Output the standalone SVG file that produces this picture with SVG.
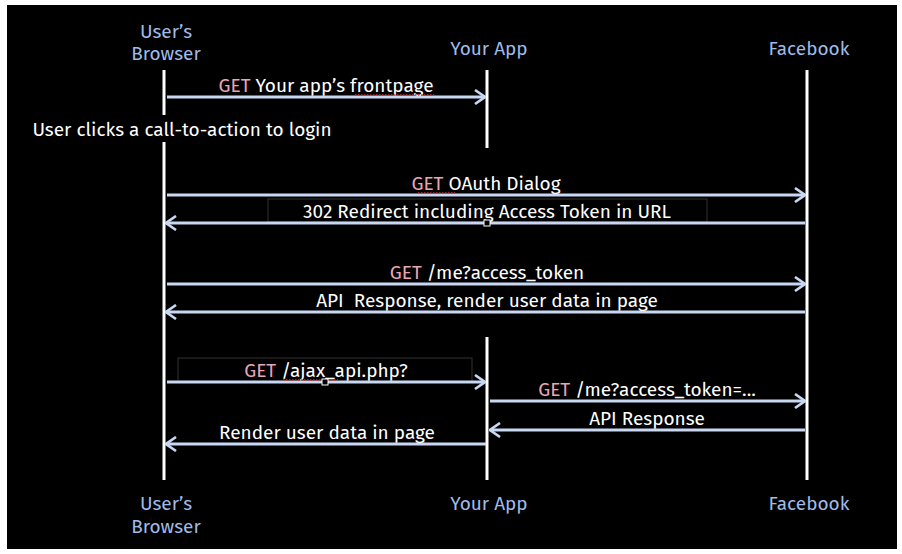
<svg xmlns="http://www.w3.org/2000/svg" width="902" height="554" viewBox="0 0 902 554">
<defs>
<marker id="ah" viewBox="0 0 12 16" refX="11" refY="8" markerWidth="12" markerHeight="16" markerUnits="userSpaceOnUse" orient="auto">
<path d="M1,1 L11,8 L1,15" fill="none" stroke="#c8d8f2" stroke-width="2.6" stroke-linejoin="miter"/>
</marker>
<style>
.bg{fill:#000}
.life{stroke:#fff;stroke-width:3}
.msg{stroke:#c8d8f2;stroke-width:3;fill:none;marker-end:url(#ah)}
.hd{font-family:"Fira Sans","Open Sans","Noto Sans",sans-serif;font-size:19px;fill:#9fbbe8;text-anchor:middle}
.lb{font-family:"Fira Sans","Open Sans","Noto Sans",sans-serif;font-size:19px;fill:#fff;text-anchor:middle}
.get{fill:#e8a6b6}
.box{fill:#000;stroke:#333;stroke-width:1}
.spell{stroke:#d03030;stroke-width:1.5;stroke-dasharray:1.5 1.5}
</style>
</defs>
<rect x="0" y="0" width="902" height="554" fill="#fff"/>
<rect class="bg" x="7" y="5" width="890" height="544"/>

<g id="browser">
<text class="hd" x="166" y="38">User’s</text>
<text class="hd" x="166" y="60">Browser</text>
<line class="life" x1="164" y1="70" x2="164" y2="480"/>
<text class="hd" x="166" y="510">User’s</text>
<text class="hd" x="166" y="533">Browser</text>
</g>
<g id="app">
<text class="hd" x="489" y="55">Your App</text>
<line class="life" x1="487" y1="70" x2="487" y2="148"/>
<line class="life" x1="487" y1="337" x2="487" y2="480"/>
<text class="hd" x="489" y="510">Your App</text>
</g>
<g id="facebook">
<text class="hd" x="809" y="55">Facebook</text>
<line class="life" x1="807" y1="70" x2="807" y2="480"/>
<text class="hd" x="809" y="510">Facebook</text>
</g>

<g id="note">
<rect class="bg" x="30" y="115" width="305" height="27"/>
<text class="lb" x="182" y="136">User clicks a call-to-action to login</text>
</g>

<g id="connectors">
<line class="msg" x1="167" y1="97" x2="485" y2="97"/>
<text class="lb" x="326" y="92"><tspan class="get">GET</tspan> Your app’s frontpage</text>
<line class="spell" x1="355" y1="95" x2="434" y2="95"/>

<line class="msg" x1="167" y1="195" x2="805" y2="195"/>
<text class="lb" x="486" y="190"><tspan class="get">GET</tspan> OAuth Dialog</text>
<line class="spell" x1="418" y1="193" x2="455" y2="193"/>

<rect class="box" x="268" y="199" width="439" height="23"/>
<line class="msg" x1="805" y1="223" x2="166" y2="223"/>
<text class="lb" x="487" y="218">302 Redirect including Access Token in URL</text>
<rect x="484" y="220" width="6" height="6" fill="#000" stroke="#fff" stroke-width="1"/>

<line class="msg" x1="167" y1="284" x2="805" y2="284"/>
<text class="lb" x="487" y="279"><tspan class="get">GET</tspan> /me?access_token</text>

<line class="msg" x1="805" y1="312" x2="166" y2="312"/>
<text class="lb" x="487" y="307" style="white-space:pre">API  Response, render user data in page</text>

<rect class="box" x="178" y="358" width="294" height="24"/>
<line class="msg" x1="167" y1="382" x2="485" y2="382"/>
<text class="lb" x="326" y="377"><tspan class="get">GET</tspan> /ajax_api.php?</text>
<line class="spell" x1="283" y1="380" x2="338" y2="380"/>
<rect x="322" y="379" width="6" height="6" fill="#000" stroke="#fff" stroke-width="1"/>

<line class="msg" x1="490" y1="401" x2="805" y2="401"/>
<text class="lb" x="647" y="396"><tspan class="get">GET</tspan> /me?access_token=...</text>

<line class="msg" x1="805" y1="430" x2="490" y2="430"/>
<text class="lb" x="647" y="425">API Response</text>

<line class="msg" x1="486" y1="444" x2="166" y2="444"/>
<text class="lb" x="327" y="439">Render user data in page</text>
</g>
</svg>
